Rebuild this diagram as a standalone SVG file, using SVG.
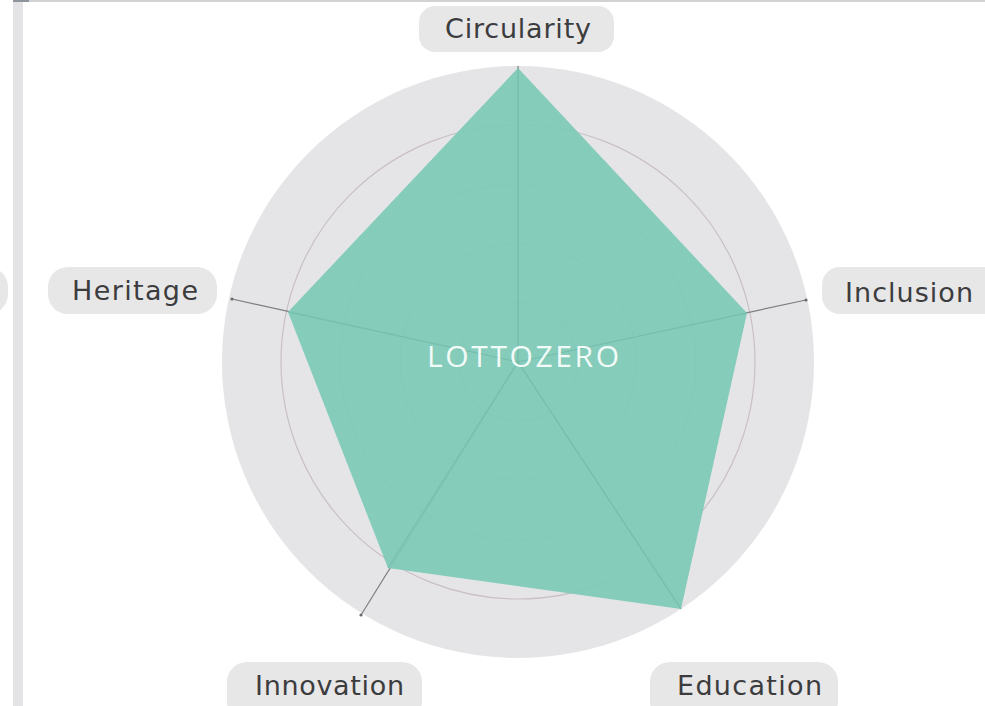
<svg xmlns="http://www.w3.org/2000/svg" width="985" height="706" viewBox="0 0 985 706">
<style>
.pill{fill:#e7e7e8}
.lbl{font-family:"DejaVu Sans","Open Sans",sans-serif;font-size:27px;fill:#3c3c3e}
.ring{fill:none;stroke:#c9bfc4;stroke-width:1.2}
.axis{stroke:#7d7d80;stroke-width:1.2}
.axin{stroke:#6fb8a6;stroke-width:1.2}
.tick{fill:#6a6a6d}
</style>
<rect width="985" height="706" fill="#ffffff"/>
<rect x="13" y="0" width="10" height="706" fill="#e3e3e5"/>
<rect x="13" y="0" width="972" height="2" fill="#d2d2d4"/>
<rect x="13" y="0" width="16" height="2" fill="#8e949c"/>
<rect x="-160" y="267" width="168" height="47" rx="20" class="pill"/>
<g id="grid">
<circle cx="518" cy="362" r="296" fill="#e5e5e7"/>
<circle cx="518" cy="362" r="237" class="ring"/>
<circle cx="518" cy="362" r="178" class="ring"/>
<circle cx="518" cy="362" r="118" class="ring"/>
<circle cx="518" cy="362" r="59" class="ring"/>
</g>
<g id="connectors">
<line x1="518" y1="362" x2="518" y2="66" class="axis"/>
<line x1="518" y1="362" x2="806" y2="300" class="axis"/>
<line x1="518" y1="362" x2="681" y2="609" class="axis"/>
<line x1="518" y1="362" x2="361" y2="615" class="axis"/>
<line x1="518" y1="362" x2="232" y2="299" class="axis"/>
<circle cx="806" cy="300" r="1.6" class="tick"/>
<circle cx="361" cy="615" r="1.6" class="tick"/>
<circle cx="232" cy="299" r="1.6" class="tick"/>
</g>
<g id="data">
<polygon points="518,68 747,313 681,609 388,568 288,312" fill="#7ecab8" fill-opacity="0.94"/>
<line x1="518" y1="362" x2="518" y2="68" class="axin" stroke-opacity="0.6"/>
<line x1="518" y1="362" x2="747" y2="313" class="axin" stroke-opacity="0.6"/>
<line x1="518" y1="362" x2="681" y2="609" class="axin" stroke-opacity="0.6"/>
<line x1="518" y1="362" x2="388" y2="568" class="axin" stroke-opacity="0.6"/>
<line x1="518" y1="362" x2="288" y2="312" class="axin" stroke-opacity="0.6"/>
</g>
<g id="center">
<text x="427" y="367" textLength="192" font-family="'Open Sans', sans-serif" font-size="30" fill="#f2fbf8">LOTTOZERO</text>
</g>
<g id="circularity">
<rect x="419" y="6" width="195" height="46" rx="16" class="pill"/>
<text x="445" y="38" textLength="146" class="lbl">Circularity</text>
</g>
<g id="inclusion">
<rect x="822" y="267" width="190" height="47" rx="18" class="pill"/>
<text x="845" y="302" textLength="128" class="lbl">Inclusion</text>
</g>
<g id="education">
<rect x="650" y="662" width="188" height="60" rx="20" class="pill"/>
<text x="677" y="695" textLength="145" class="lbl">Education</text>
</g>
<g id="innovation">
<rect x="227" y="662" width="195" height="60" rx="20" class="pill"/>
<text x="255" y="695" textLength="149" class="lbl">Innovation</text>
</g>
<g id="heritage">
<rect x="48" y="267" width="169" height="47" rx="20" class="pill"/>
<text x="72" y="300" textLength="126" class="lbl">Heritage</text>
</g>
</svg>
